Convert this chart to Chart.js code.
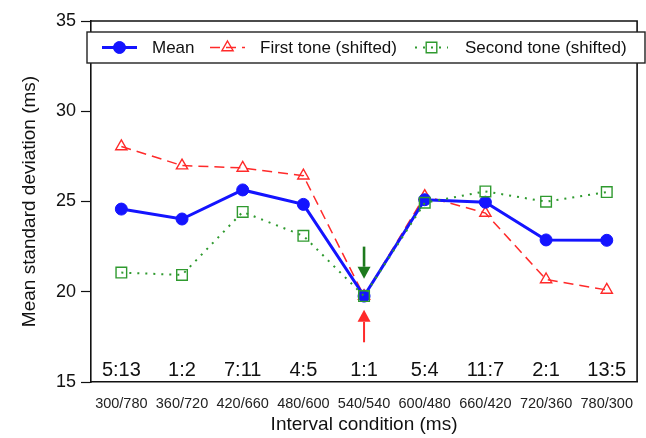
<!DOCTYPE html>
<html lang="en">
<head>
  <meta charset="utf-8" />
  <title>Mean standard deviation</title>
  <style>
html, body { margin: 0; padding: 0; background: #fff; overflow: hidden; }
#chartContainer { width: 646px; height: 438px; }
#myChart { display: block; }
  </style>
</head>
<body>
  <div id="chartContainer">
    <canvas id="myChart" width="646" height="438"></canvas>
  </div>
  <script src="https://cdn.jsdelivr.net/npm/chart.js"></script>
  <script>

// interval conditions and their ratios
const intervals = ['300/780', '360/720', '420/660', '480/600', '540/540', '600/480', '660/420', '720/360', '780/300'];
const ratios = ['5:13', '1:2', '7:11', '4:5', '1:1', '5:4', '11:7', '2:1', '13:5'];

// mean standard deviation (ms)
const meanSD = [24.58, 24.03, 25.64, 24.84, 19.76, 25.1, 24.96, 22.87, 22.85];
const firstToneSD = [28.05, 26.99, 26.86, 26.43, 19.76, 25.3, 24.36, 20.68, 20.1];
const secondToneSD = [21.06, 20.93, 24.42, 23.1, 19.76, 24.93, 25.56, 24.99, 25.52];

const yTicks = [15, 20, 25, 30, 35];

// arrows at 1:1  [from, to] in ms
const greenArrow = [22.5, 20.72];
const redArrow = [17.2, 19.0];

const FONT = "'Liberation Sans', Arial, Helvetica, sans-serif";
const BLUE = '#1414ff';
const RED = '#ff2a2a';
const GREEN = '#2f9a2f';

// frame around the plot + ratio labels + arrows
const decorPlugin = {
  id: 'decor',
  afterDatasetsDraw(chart) {
    const {ctx, chartArea: a, scales: {x, y}} = chart;
    ctx.save();
    ctx.strokeStyle = '#111';
    ctx.lineWidth = 1.6;
    ctx.beginPath();
    ctx.moveTo(a.left, a.top);
    ctx.lineTo(a.right, a.top);
    ctx.lineTo(a.right, a.bottom);
    ctx.stroke();

    ctx.fillStyle = '#111';
    ctx.font = '20px ' + FONT;
    ctx.textAlign = 'center';
    ctx.textBaseline = 'alphabetic';
    ratios.forEach((r, i) => {
      ctx.fillText(r, x.getPixelForValue(i), a.bottom - 6);
    });

    const cx = x.getPixelForValue(4);
    const arrow = (from, to, color, lw) => {
      const y0 = y.getPixelForValue(from), y1 = y.getPixelForValue(to);
      const dir = Math.sign(y1 - y0);
      const head = 12;
      ctx.strokeStyle = color;
      ctx.fillStyle = color;
      ctx.lineWidth = lw;
      ctx.beginPath();
      ctx.moveTo(cx, y0);
      ctx.lineTo(cx, y1 - dir * head);
      ctx.stroke();
      ctx.beginPath();
      ctx.moveTo(cx, y1);
      ctx.lineTo(cx - 6.5, y1 - dir * head);
      ctx.lineTo(cx + 6.5, y1 - dir * head);
      ctx.closePath();
      ctx.fill();
    };
    arrow(greenArrow[0], greenArrow[1], '#1d7a1d', 2.6);
    arrow(redArrow[0], redArrow[1], RED, 2);
    ctx.restore();
  }
};

// boxed legend with line+marker samples
const legendBoxPlugin = {
  id: 'legendBox',
  afterDraw(chart) {
    const {ctx} = chart;
    const top = 32, bottom = 63, left = 87, right = 645;
    const cy = (top + bottom) / 2;
    ctx.save();
    ctx.fillStyle = '#fff';
    ctx.fillRect(left, top, right - left, bottom - top);
    ctx.strokeStyle = '#222';
    ctx.lineWidth = 1.4;
    ctx.strokeRect(left, top, right - left, bottom - top);

    const items = [
      {ds: 0, x0: 102, x1: 137, tx: 152},
      {ds: 1, x0: 210, x1: 245, tx: 260},
      {ds: 2, x0: 415, x1: 448, tx: 465}
    ];
    items.forEach(it => {
      const d = chart.data.datasets[it.ds];
      ctx.strokeStyle = d.borderColor;
      ctx.lineWidth = d.borderWidth;
      ctx.setLineDash(d.borderDash || []);
      ctx.beginPath();
      ctx.moveTo(it.x0, cy);
      ctx.lineTo(it.x1, cy);
      ctx.stroke();
      ctx.setLineDash([]);
      ctx.fillStyle = d.pointBackgroundColor;
      ctx.strokeStyle = d.pointBorderColor;
      ctx.lineWidth = d.pointBorderWidth;
      Chart.helpers.drawPoint(ctx, {pointStyle: d.pointStyle, radius: d.pointRadius, borderWidth: d.pointBorderWidth, rotation: 0},
        (it.x0 + it.x1) / 2, cy);
      ctx.fillStyle = '#111';
      ctx.font = '17px ' + FONT;
      ctx.textAlign = 'left';
      ctx.textBaseline = 'middle';
      ctx.fillText(d.label, it.tx, cy + 1);
    });
    ctx.restore();
  }
};

const ctx = document.getElementById('myChart');
const chart = new Chart(ctx, {
  type: 'line',
  data: {
    labels: intervals,
    datasets: [
      {
        label: 'Mean',
        data: meanSD,
        borderColor: BLUE,
        borderWidth: 3,
        pointStyle: 'circle',
        pointRadius: 6,
        pointBackgroundColor: BLUE,
        pointBorderColor: BLUE,
        pointBorderWidth: 1,
        tension: 0,
        order: 1
      },
      {
        label: 'First tone (shifted)',
        data: firstToneSD,
        borderColor: RED,
        borderWidth: 1.5,
        borderDash: [10, 6],
        pointStyle: 'triangle',
        pointRadius: 6.5,
        pointBackgroundColor: 'rgba(255,255,255,0)',
        pointBorderColor: RED,
        pointBorderWidth: 1.4,
        tension: 0,
        order: 2
      },
      {
        label: 'Second tone (shifted)',
        data: secondToneSD,
        borderColor: GREEN,
        borderWidth: 2,
        borderDash: [2, 6],
        pointStyle: 'rect',
        pointRadius: 7.5,
        pointBackgroundColor: 'rgba(255,255,255,0)',
        pointBorderColor: GREEN,
        pointBorderWidth: 1.4,
        tension: 0,
        order: 0
      }
    ]
  },
  options: {
    responsive: false,
    animation: false,
    layout: { padding: { top: 21, right: 0, left: 0, bottom: 0 } },
    plugins: {
      legend: { display: false },
      tooltip: { enabled: false }
    },
    scales: {
      x: {
        offset: true,
        grid: { display: false, drawOnChartArea: false, offset: true, tickLength: 9, tickColor: '#111', tickWidth: 1.2 },
        border: { color: '#111', width: 1.6 },
        ticks: { color: '#222', font: { family: FONT, size: 14.5 }, padding: 4, maxRotation: 0, autoSkip: false },
        title: { display: true, text: 'Interval condition (ms)', color: '#111', font: { family: FONT, size: 19 }, padding: { top: 0, bottom: 2 } },
        afterFit(scale) {
          scale.height = 56;
          scale.paddingLeft = 0;
          scale.paddingRight = 0;
        }
      },
      y: {
        min: 15,
        max: 35,
        afterBuildTicks(scale) { scale.ticks = yTicks.map(v => ({value: v})); },
        grid: { display: true, drawOnChartArea: false, tickLength: 10, tickColor: '#111', tickWidth: 1.2 },
        border: { color: '#111', width: 1.6 },
        ticks: { color: '#111', font: { family: FONT, size: 18 }, padding: 5 },
        title: { display: true, text: 'Mean standard deviation (ms)', color: '#111', font: { family: FONT, size: 19 }, padding: { top: 18, bottom: 0 } },
        afterFit(scale) { scale.width = 91; }
      }
    }
  },
  plugins: [decorPlugin, legendBoxPlugin]
});
  </script>
</body>
</html>
